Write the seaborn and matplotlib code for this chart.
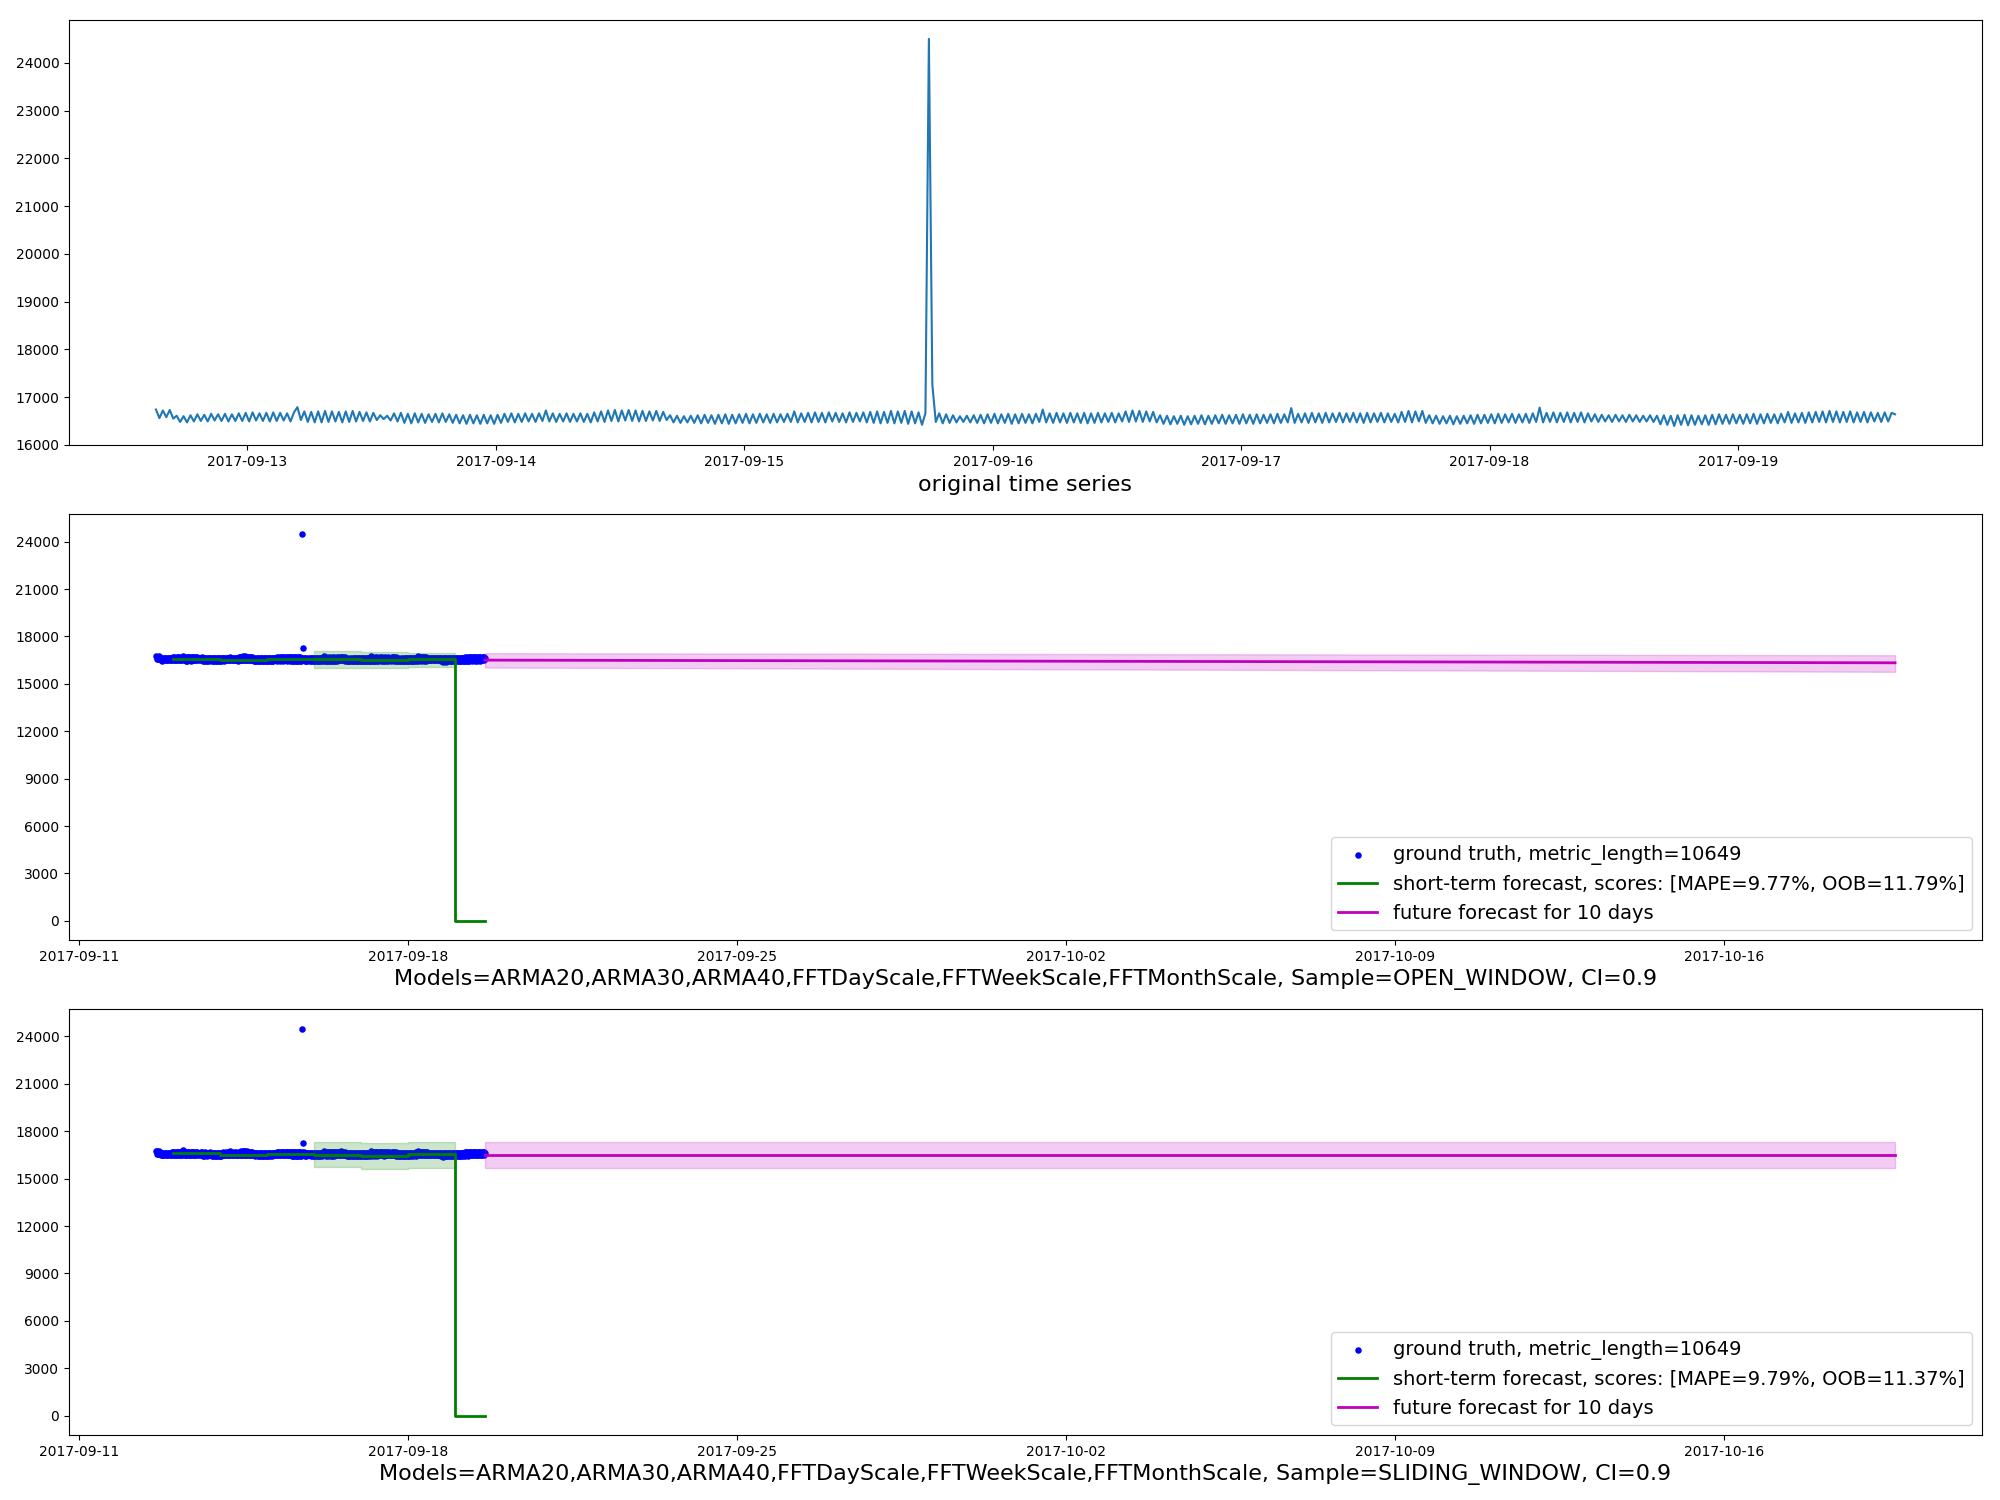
import pandas as pd
import matplotlib
matplotlib.use("Agg")
import matplotlib.pyplot as plt
import matplotlib.dates as mdates
from matplotlib.ticker import MultipleLocator
import seaborn as sns

gt_start = "2017-09-12 15:10"
gt_values = [
    16740, 16560, 16720, 16580, 16730, 16550, 16610, 16480, 16600, 16470, 16620, 16490,
    16640, 16500, 16630, 16490, 16650, 16510, 16640, 16500, 16650, 16490, 16640, 16500,
    16660, 16500, 16670, 16490, 16680, 16510, 16660, 16500, 16670, 16490, 16680, 16500,
    16670, 16510, 16660, 16490, 16680, 16790, 16520, 16700, 16480, 16690, 16470, 16700,
    16470, 16710, 16480, 16700, 16490, 16690, 16470, 16700, 16480, 16710, 16490, 16690,
    16500, 16680, 16490, 16670, 16520, 16620, 16540, 16610, 16510, 16660, 16490, 16670,
    16460, 16650, 16450, 16660, 16470, 16650, 16460, 16640, 16480, 16650, 16470, 16660,
    16480, 16640, 16460, 16630, 16450, 16620, 16440, 16630, 16450, 16620, 16440, 16630,
    16450, 16620, 16440, 16630, 16460, 16650, 16480, 16660, 16470, 16650, 16480, 16660,
    16490, 16650, 16480, 16660, 16500, 16720, 16490, 16660, 16480, 16650, 16490, 16660,
    16480, 16650, 16490, 16660, 16480, 16650, 16470, 16680, 16490, 16700, 16480, 16720,
    16500, 16730, 16490, 16720, 16510, 16730, 16500, 16720, 16490, 16710, 16500, 16700,
    16510, 16710, 16500, 16690, 16520, 16620, 16470, 16610, 16460, 16600, 16470, 16610,
    16460, 16620, 16450, 16630, 16460, 16620, 16440, 16630, 16450, 16640, 16440, 16630,
    16450, 16640, 16460, 16650, 16450, 16640, 16460, 16650, 16470, 16640, 16460, 16650,
    16470, 16640, 16480, 16650, 16480, 16700, 16470, 16660, 16480, 16670, 16470, 16680,
    16480, 16670, 16470, 16680, 16490, 16670, 16480, 16660, 16470, 16680, 16480, 16670,
    16490, 16680, 16470, 16690, 16460, 16700, 16450, 16690, 16460, 16710, 16450, 16700,
    16460, 16710, 16440, 16700, 16450, 16680, 16420, 16660, 24500, 17260, 16480, 16660,
    16450, 16640, 16460, 16620, 16470, 16600, 16480, 16610, 16470, 16620, 16460, 16630,
    16450, 16640, 16460, 16650, 16450, 16640, 16460, 16650, 16440, 16640, 16450, 16650,
    16460, 16640, 16450, 16650, 16480, 16740, 16470, 16660, 16460, 16670, 16470, 16660,
    16460, 16670, 16470, 16660, 16460, 16670, 16450, 16660, 16460, 16670, 16470, 16660,
    16480, 16670, 16470, 16660, 16490, 16700, 16480, 16720, 16490, 16710, 16480, 16700,
    16490, 16690, 16470, 16620, 16440, 16610, 16430, 16600, 16440, 16610, 16420, 16600,
    16430, 16610, 16440, 16620, 16430, 16610, 16440, 16620, 16450, 16630, 16440, 16620,
    16450, 16630, 16440, 16640, 16450, 16630, 16440, 16640, 16450, 16630, 16460, 16640,
    16450, 16650, 16460, 16640, 16470, 16770, 16460, 16650, 16470, 16660, 16460, 16670,
    16470, 16660, 16460, 16670, 16470, 16660, 16480, 16670, 16470, 16660, 16480, 16670,
    16470, 16660, 16460, 16670, 16470, 16660, 16480, 16670, 16470, 16660, 16480, 16650,
    16470, 16690, 16480, 16710, 16470, 16700, 16490, 16710, 16460, 16620, 16450, 16610,
    16440, 16600, 16450, 16610, 16430, 16600, 16440, 16610, 16450, 16620, 16440, 16630,
    16450, 16630, 16460, 16640, 16450, 16650, 16460, 16640, 16470, 16650, 16460, 16640,
    16470, 16650, 16460, 16660, 16480, 16780, 16470, 16670, 16480, 16680, 16470, 16670,
    16480, 16680, 16470, 16670, 16480, 16680, 16470, 16660, 16490, 16640, 16480, 16630,
    16490, 16620, 16480, 16630, 16490, 16620, 16480, 16630, 16490, 16620, 16480, 16610,
    16490, 16620, 16480, 16610, 16430, 16620, 16420, 16610, 16395, 16620, 16420, 16630,
    16410, 16620, 16420, 16610, 16430, 16620, 16420, 16630, 16430, 16640, 16440, 16630,
    16440, 16640, 16450, 16630, 16440, 16640, 16450, 16650, 16440, 16640, 16450, 16650,
    16460, 16640, 16450, 16650, 16470, 16690, 16460, 16660, 16470, 16670, 16460, 16680,
    16470, 16690, 16480, 16700, 16470, 16710, 16480, 16700, 16470, 16690, 16480, 16700,
    16470, 16680, 16480, 16690, 16470, 16680, 16490, 16670, 16480, 16680, 16490, 16670,
    16640,
]
metric_length = 10649

# short-term forecast: one level per day, zero after the last day
short_times = ["2017-09-13 00:00", "2017-09-14 00:00", "2017-09-15 00:00", "2017-09-16 00:00",
               "2017-09-17 00:00", "2017-09-18 00:00", "2017-09-19 00:00", "2017-09-19 15:10"]
short_open = [16580, 16520, 16540, 16550, 16530, 16540, 0, 0]
short_sliding = [16600, 16520, 16560, 16520, 16460, 16560, 0, 0]

ci_times = ["2017-09-16", "2017-09-17", "2017-09-18", "2017-09-19"]
ci_open_upper = [17090, 17010, 16940, 16940]
ci_open_lower = [15970, 15970, 16080, 16080]
ci_sliding_upper = [17300, 17230, 17340, 17340]
ci_sliding_lower = [15720, 15610, 15670, 15670]

# future forecast
fut_times = ["2017-09-19 15:10", "2017-10-19 15:10"]
fut_open = [16500, 16330]
fut_open_upper = [16940, 16810]
fut_open_lower = [16030, 15760]
fut_sliding = [16520, 16520]
fut_sliding_upper = [17320, 17320]
fut_sliding_lower = [15650, 15650]

models = "ARMA20,ARMA30,ARMA40,FFTDayScale,FFTWeekScale,FFTMonthScale"

gt_times = pd.date_range(gt_start, periods=len(gt_values), freq="20min")
short_times = pd.to_datetime(short_times, format="mixed")
ci_times = pd.to_datetime(ci_times, format="mixed")
fut_times = pd.to_datetime(fut_times, format="mixed")


def plot_forecast(ax, short_vals, ci_upper, ci_lower, fut_vals, fut_upper, fut_lower,
                  mape, oob, sample):
    sns.scatterplot(x=gt_times, y=gt_values, ax=ax, color="b", marker="o", s=22,
                    linewidth=0, label=f"ground truth, metric_length={metric_length}")
    sns.lineplot(x=short_times, y=short_vals, ax=ax, color="g", linewidth=2,
                 drawstyle="steps-post",
                 label=f"short-term forecast, scores: [MAPE={mape}%, OOB={oob}%]")
    ax.fill_between(ci_times, ci_lower, ci_upper, step="post", color="g", alpha=0.2)
    sns.lineplot(x=fut_times, y=fut_vals, ax=ax, color="m", linewidth=2,
                 label="future forecast for 10 days")
    ax.fill_between(fut_times, fut_lower, fut_upper, color="m", alpha=0.2)

    ax.xaxis.set_major_locator(mdates.WeekdayLocator(byweekday=mdates.MO))
    ax.xaxis.set_major_formatter(mdates.DateFormatter("%Y-%m-%d"))
    ax.yaxis.set_major_locator(MultipleLocator(3000))
    ax.set_ylabel("")
    ax.set_xlabel(f"Models={models}, Sample={sample}, CI=0.9", fontsize=16)
    ax.legend(loc="lower right", fontsize=14)


fig, axes = plt.subplots(3, 1, figsize=(20, 15))
fig.subplots_adjust(left=0.0345, right=0.991, top=0.987, bottom=0.0433, hspace=0.162)

ax = axes[0]
sns.lineplot(x=gt_times, y=gt_values, ax=ax, color="#1f77b4", linewidth=1.5)
ax.xaxis.set_major_locator(mdates.DayLocator())
ax.xaxis.set_major_formatter(mdates.DateFormatter("%Y-%m-%d"))
ax.yaxis.set_major_locator(MultipleLocator(1000))
ax.set_ylabel("")
ax.set_xlabel("original time series", fontsize=16)

plot_forecast(axes[1], short_open, ci_open_upper, ci_open_lower,
              fut_open, fut_open_upper, fut_open_lower, "9.77", "11.79", "OPEN_WINDOW")
plot_forecast(axes[2], short_sliding, ci_sliding_upper, ci_sliding_lower,
              fut_sliding, fut_sliding_upper, fut_sliding_lower, "9.79", "11.37",
              "SLIDING_WINDOW")

plt.savefig("out.png", dpi=100)
